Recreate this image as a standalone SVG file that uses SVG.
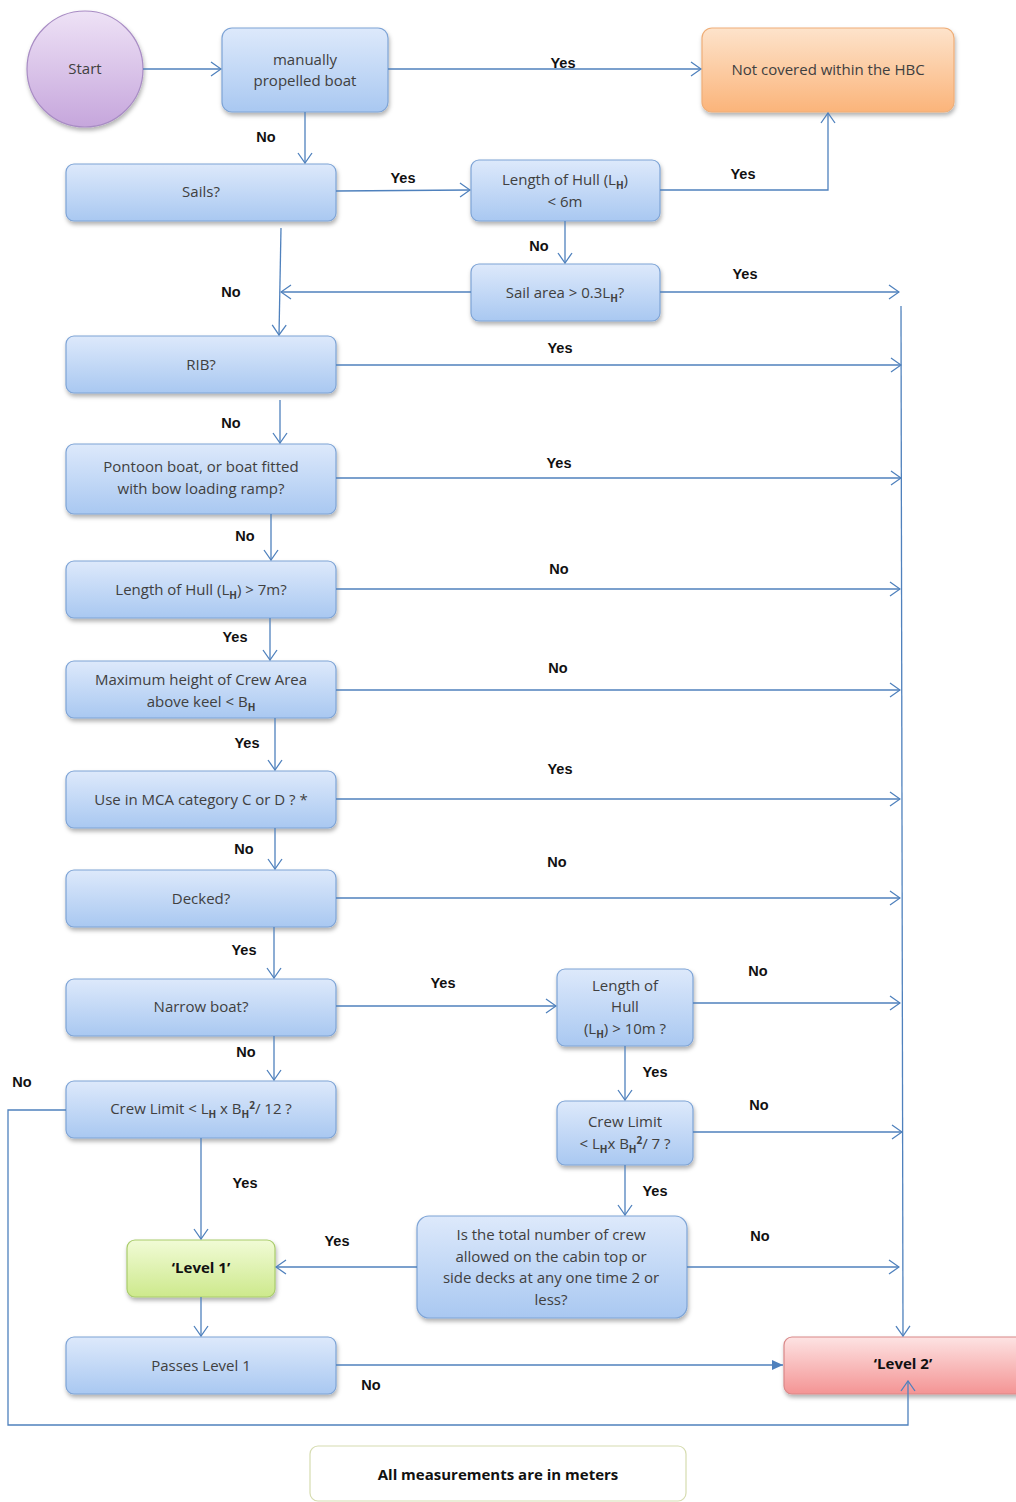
<svg xmlns="http://www.w3.org/2000/svg" width="1016" height="1502" viewBox="0 0 1016 1502">
<defs>
<linearGradient id="gBlue" x1="0" y1="0" x2="0" y2="1"><stop offset="0" stop-color="#dde9fb"/><stop offset="1" stop-color="#a9c8f1"/></linearGradient>
<linearGradient id="gOrange" x1="0" y1="0" x2="0" y2="1"><stop offset="0" stop-color="#fde3cb"/><stop offset="1" stop-color="#fbb47a"/></linearGradient>
<linearGradient id="gGreen" x1="0" y1="0" x2="0" y2="1"><stop offset="0" stop-color="#f1fbd6"/><stop offset="1" stop-color="#cde98c"/></linearGradient>
<linearGradient id="gRed" x1="0" y1="0" x2="0" y2="1"><stop offset="0" stop-color="#fde3e3"/><stop offset="1" stop-color="#f49494"/></linearGradient>
<linearGradient id="gPurple" x1="0" y1="0" x2="0" y2="1"><stop offset="0" stop-color="#eee2f6"/><stop offset="1" stop-color="#c6a6dc"/></linearGradient>
<filter id="sh" x="-10%" y="-10%" width="125%" height="130%"><feDropShadow dx="1" dy="3" stdDeviation="2" flood-color="#000" flood-opacity="0.3"/></filter>
<marker id="ah" markerWidth="12" markerHeight="16" refX="11" refY="8" orient="auto" markerUnits="userSpaceOnUse"><path d="M1,1 L11,8 L1,15" fill="none" stroke="#4f81bd" stroke-width="1.3"/></marker>
<marker id="af" markerWidth="12" markerHeight="12" refX="11" refY="6" orient="auto" markerUnits="userSpaceOnUse"><path d="M0,1 L11,6 L0,11 Z" fill="#4f81bd"/></marker>
<style>
.n{fill:url(#gBlue);stroke:#7ea4d6;stroke-width:1.2;filter:url(#sh)}
.t{font-family:"Open Sans","Liberation Sans",Arial,sans-serif;font-size:15px;fill:#404040;text-anchor:middle}
.b{font-weight:bold;fill:#111}
.l{font-family:"Liberation Sans",Arial,sans-serif;font-size:14.5px;font-weight:bold;fill:#111;text-anchor:middle}
.s{font-size:10px;font-weight:bold}
.c{fill:none;stroke:#4f81bd;stroke-width:1.3}
</style>
</defs>
<rect width="1016" height="1502" fill="#ffffff"/>

<g id="start">
<circle cx="85" cy="69" r="58" fill="url(#gPurple)" stroke="#a88cc4" stroke-width="1.2" filter="url(#sh)"/>
<text class="t" x="85" y="74">Start</text>
</g>
<g id="manual">
<rect class="n" x="222" y="28" width="166" height="84" rx="10"/>
<text class="t" x="305" y="65">manually</text>
<text class="t" x="305" y="86">propelled boat</text>
</g>
<g id="notcovered">
<rect x="702" y="28" width="252" height="84" rx="10" fill="url(#gOrange)" stroke="#efae78" stroke-width="1.2" filter="url(#sh)"/>
<text class="t" x="828" y="75">Not covered within the HBC</text>
</g>
<g id="sails">
<rect class="n" x="66" y="164" width="270" height="57" rx="8"/>
<text class="t" x="201" y="197">Sails?</text>
</g>
<g id="hull6">
<rect class="n" x="471" y="160" width="189" height="61" rx="8"/>
<text class="t" x="565" y="185">Length of Hull (L<tspan class="s" dy="4">H</tspan><tspan dy="-4">)</tspan></text>
<text class="t" x="565" y="207">&lt; 6m</text>
</g>
<g id="sailarea">
<rect class="n" x="471" y="264" width="189" height="57" rx="8"/>
<text class="t" x="565" y="298">Sail area &gt; 0.3L<tspan class="s" dy="4">H</tspan><tspan dy="-4">?</tspan></text>
</g>
<g id="rib">
<rect class="n" x="66" y="336" width="270" height="57" rx="8"/>
<text class="t" x="201" y="370">RIB?</text>
</g>
<g id="pontoon">
<rect class="n" x="66" y="444" width="270" height="70" rx="8"/>
<text class="t" x="201" y="472">Pontoon boat, or boat fitted</text>
<text class="t" x="201" y="494">with bow loading ramp?</text>
</g>
<g id="hull7">
<rect class="n" x="66" y="561" width="270" height="57" rx="8"/>
<text class="t" x="201" y="595">Length of Hull (L<tspan class="s" dy="4">H</tspan><tspan dy="-4">) &gt; 7m?</tspan></text>
</g>
<g id="maxheight">
<rect class="n" x="66" y="661" width="270" height="57" rx="8"/>
<text class="t" x="201" y="685">Maximum height of Crew Area</text>
<text class="t" x="201" y="707">above keel &lt; B<tspan class="s" dy="4">H</tspan></text>
</g>
<g id="mca">
<rect class="n" x="66" y="771" width="270" height="57" rx="8"/>
<text class="t" x="201" y="805">Use in MCA category C or  D ? *</text>
</g>
<g id="decked">
<rect class="n" x="66" y="870" width="270" height="57" rx="8"/>
<text class="t" x="201" y="904">Decked?</text>
</g>
<g id="narrow">
<rect class="n" x="66" y="979" width="270" height="57" rx="8"/>
<text class="t" x="201" y="1012">Narrow boat?</text>
</g>
<g id="hull10">
<rect class="n" x="557" y="969" width="136" height="77" rx="8"/>
<text class="t" x="625" y="991">Length of</text>
<text class="t" x="625" y="1012">Hull</text>
<text class="t" x="625" y="1034">(L<tspan class="s" dy="4">H</tspan><tspan dy="-4">) &gt; 10m ?</tspan></text>
</g>
<g id="crew12">
<rect class="n" x="66" y="1081" width="270" height="57" rx="8"/>
<text class="t" x="201" y="1114">Crew Limit &lt; L<tspan class="s" dy="4">H</tspan><tspan dy="-4"> x B</tspan><tspan class="s" dy="4">H</tspan><tspan class="s" dy="-9">2</tspan><tspan dy="5">/ 12 ?</tspan></text>
</g>
<g id="crew7">
<rect class="n" x="557" y="1101" width="136" height="64" rx="8"/>
<text class="t" x="625" y="1127">Crew Limit</text>
<text class="t" x="625" y="1149">&lt; L<tspan class="s" dy="4">H</tspan><tspan dy="-4">x B</tspan><tspan class="s" dy="4">H</tspan><tspan class="s" dy="-9">2</tspan><tspan dy="5">/ 7 ?</tspan></text>
</g>
<g id="totalcrew">
<rect class="n" x="417" y="1216" width="270" height="102" rx="12"/>
<text class="t" x="551" y="1240">Is the total number of crew</text>
<text class="t" x="551" y="1262">allowed on the cabin top or</text>
<text class="t" x="551" y="1283">side decks at any one time 2 or</text>
<text class="t" x="551" y="1305">less?</text>
</g>
<g id="level1">
<rect x="127" y="1240" width="148" height="57" rx="8" fill="url(#gGreen)" stroke="#a9cc6c" stroke-width="1.2" filter="url(#sh)"/>
<text class="t b" x="201" y="1273">‘Level 1’</text>
</g>
<g id="passes">
<rect class="n" x="66" y="1337" width="270" height="57" rx="8"/>
<text class="t" x="201" y="1371">Passes Level 1</text>
</g>
<g id="level2">
<rect x="784" y="1337" width="240" height="57" rx="8" fill="url(#gRed)" stroke="#d98888" stroke-width="1.2" filter="url(#sh)"/>
<text class="t b" x="903" y="1369">‘Level 2’</text>
</g>
<g id="note">
<rect x="310" y="1446" width="376" height="55" rx="8" fill="#ffffff" stroke="#d6dcb0" stroke-width="1.2"/>
<text class="t b" x="498" y="1480">All measurements are in meters</text>
</g>

<g id="connectors" class="c">
<line x1="143" y1="69" x2="221" y2="69" marker-end="url(#ah)"/>
<line x1="388" y1="69" x2="701" y2="69" marker-end="url(#ah)"/>
<line x1="305" y1="112" x2="305" y2="163" marker-end="url(#ah)"/>
<line x1="336" y1="191" x2="470" y2="190" marker-end="url(#ah)"/>
<polyline points="660,190 828,190 828,113" marker-end="url(#ah)"/>
<line x1="565" y1="221" x2="565" y2="263" marker-end="url(#ah)"/>
<line x1="471" y1="292" x2="281" y2="292" marker-end="url(#ah)"/>
<line x1="281" y1="228" x2="279" y2="335" marker-end="url(#ah)"/>
<line x1="660" y1="292" x2="899" y2="292" marker-end="url(#ah)"/>
<line x1="901" y1="306" x2="903" y2="1336" marker-end="url(#ah)"/>
<line x1="336" y1="365" x2="901" y2="365" marker-end="url(#ah)"/>
<line x1="280" y1="400" x2="280" y2="443" marker-end="url(#ah)"/>
<line x1="336" y1="478" x2="901" y2="478" marker-end="url(#ah)"/>
<line x1="271" y1="514" x2="271" y2="560" marker-end="url(#ah)"/>
<line x1="336" y1="589" x2="900" y2="589" marker-end="url(#ah)"/>
<line x1="270" y1="618" x2="270" y2="660" marker-end="url(#ah)"/>
<line x1="336" y1="690" x2="900" y2="690" marker-end="url(#ah)"/>
<line x1="275" y1="718" x2="275" y2="770" marker-end="url(#ah)"/>
<line x1="336" y1="799" x2="900" y2="799" marker-end="url(#ah)"/>
<line x1="275" y1="828" x2="275" y2="869" marker-end="url(#ah)"/>
<line x1="336" y1="898" x2="900" y2="898" marker-end="url(#ah)"/>
<line x1="274" y1="927" x2="274" y2="978" marker-end="url(#ah)"/>
<line x1="336" y1="1006" x2="556" y2="1006" marker-end="url(#ah)"/>
<line x1="693" y1="1003" x2="900" y2="1003" marker-end="url(#ah)"/>
<line x1="625" y1="1046" x2="625" y2="1100" marker-end="url(#ah)"/>
<line x1="274" y1="1036" x2="274" y2="1080" marker-end="url(#ah)"/>
<polyline points="66,1110 8,1110 8,1425 908,1425 908,1381" marker-end="url(#ah)"/>
<line x1="693" y1="1132" x2="902" y2="1132" marker-end="url(#ah)"/>
<line x1="625" y1="1165" x2="625" y2="1215" marker-end="url(#ah)"/>
<line x1="687" y1="1267" x2="899" y2="1267" marker-end="url(#ah)"/>
<line x1="417" y1="1267" x2="276" y2="1267" marker-end="url(#ah)"/>
<line x1="201" y1="1138" x2="201" y2="1239" marker-end="url(#ah)"/>
<line x1="201" y1="1297" x2="201" y2="1336" marker-end="url(#ah)"/>
<line x1="336" y1="1365" x2="783" y2="1365" marker-end="url(#af)"/>
</g>

<g id="edge-labels">
<text class="l" x="563" y="68">Yes</text>
<text class="l" x="266" y="142">No</text>
<text class="l" x="403" y="183">Yes</text>
<text class="l" x="743" y="179">Yes</text>
<text class="l" x="539" y="251">No</text>
<text class="l" x="231" y="297">No</text>
<text class="l" x="745" y="279">Yes</text>
<text class="l" x="560" y="353">Yes</text>
<text class="l" x="231" y="428">No</text>
<text class="l" x="559" y="468">Yes</text>
<text class="l" x="245" y="541">No</text>
<text class="l" x="559" y="574">No</text>
<text class="l" x="235" y="642">Yes</text>
<text class="l" x="558" y="673">No</text>
<text class="l" x="247" y="748">Yes</text>
<text class="l" x="560" y="774">Yes</text>
<text class="l" x="244" y="854">No</text>
<text class="l" x="557" y="867">No</text>
<text class="l" x="244" y="955">Yes</text>
<text class="l" x="443" y="988">Yes</text>
<text class="l" x="758" y="976">No</text>
<text class="l" x="655" y="1077">Yes</text>
<text class="l" x="246" y="1057">No</text>
<text class="l" x="22" y="1087">No</text>
<text class="l" x="759" y="1110">No</text>
<text class="l" x="655" y="1196">Yes</text>
<text class="l" x="760" y="1241">No</text>
<text class="l" x="337" y="1246">Yes</text>
<text class="l" x="245" y="1188">Yes</text>
<text class="l" x="371" y="1390">No</text>
</g>
</svg>
